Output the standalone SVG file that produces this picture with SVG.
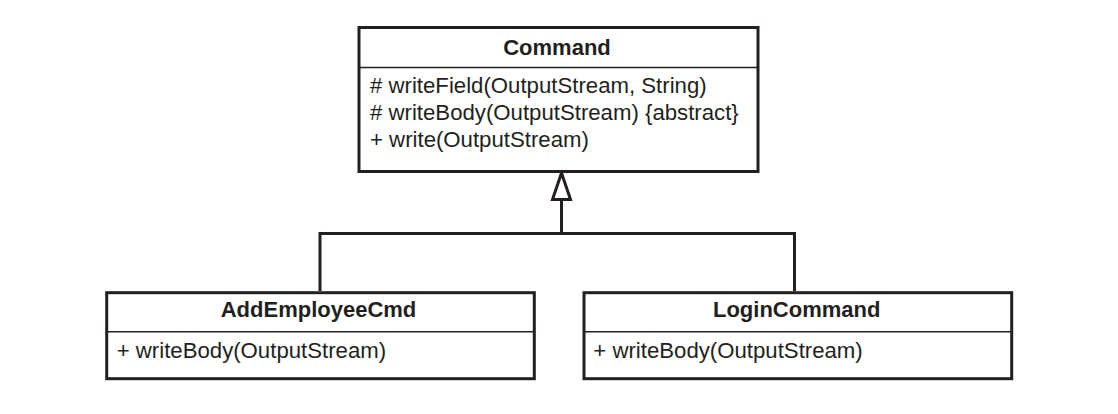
<svg xmlns="http://www.w3.org/2000/svg" width="1118" height="414" viewBox="0 0 1118 414">
<style>
.box{fill:#fff;stroke:#231f20;stroke-width:3}
.div{stroke:#231f20;stroke-width:1.5}
.t{font-family:"Liberation Sans",Arial,sans-serif;font-size:22.2px;fill:#231f20}
.b{font-weight:bold;text-anchor:middle;font-size:22px}
.ln{fill:none;stroke:#231f20;stroke-width:3}
.hd{fill:#fff;stroke:#231f20;stroke-width:3;stroke-linejoin:miter}
</style>
<rect width="1118" height="414" fill="#fff"/>
<g id="connectors">
<polyline class="ln" points="320,291 320,233.5 794.5,233.5 794.5,291"/>
<line class="ln" x1="561.5" y1="233.5" x2="561.5" y2="199"/>
<polygon class="hd" points="561.5,173 552.5,199.5 570.5,199.5"/>
</g>
<g id="Command">
<rect class="box" x="359" y="27.5" width="399" height="144"/>
<line class="div" x1="359" y1="67.5" x2="758" y2="67.5"/>
<text class="t b" x="557" y="55">Command</text>
<text class="t" x="370" y="93.3"># writeField(OutputStream, String)</text>
<text class="t" x="370" y="120"># writeBody(OutputStream) {abstract}</text>
<text class="t" x="370" y="146.7">+ write(OutputStream)</text>
</g>
<g id="AddEmployeeCmd">
<rect class="box" x="106.7" y="292.7" width="427.6" height="86"/>
<line class="div" x1="106.7" y1="331.7" x2="534.3" y2="331.7"/>
<text class="t b" x="318.5" y="316.7">AddEmployeeCmd</text>
<text class="t" x="116.7" y="358.3">+ writeBody(OutputStream)</text>
</g>
<g id="LoginCommand">
<rect class="box" x="584" y="292.7" width="427.7" height="86"/>
<line class="div" x1="584" y1="331.7" x2="1011.7" y2="331.7"/>
<text class="t b" x="796.7" y="316.7">LoginCommand</text>
<text class="t" x="593.3" y="358.3">+ writeBody(OutputStream)</text>
</g>
</svg>
